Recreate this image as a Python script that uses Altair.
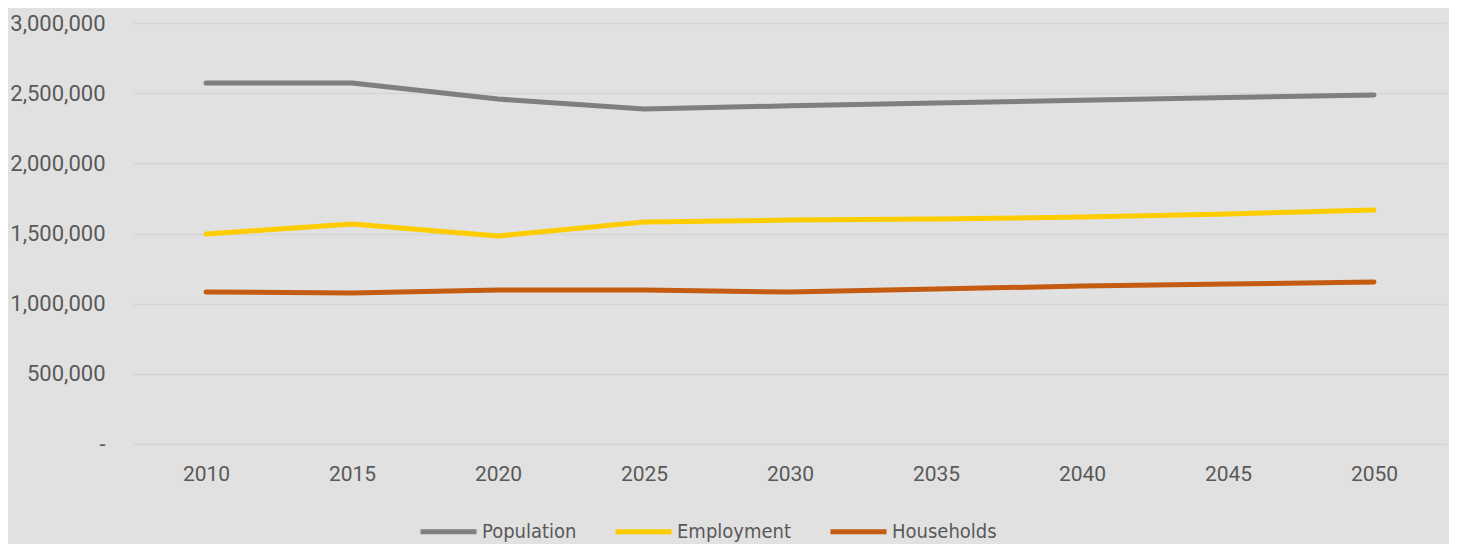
import altair as alt
import pandas as pd

years = ["2010", "2015", "2020", "2025", "2030", "2035", "2040", "2045", "2050"]
population = [2572000, 2572000, 2458000, 2387000, 2410000, 2430000, 2450000, 2470000, 2487000]
employment = [1496000, 1568000, 1482000, 1582000, 1596000, 1603000, 1617000, 1639000, 1667000]
households = [1083000, 1076000, 1097000, 1097000, 1083000, 1104000, 1126000, 1140000, 1154000]

series_names = ["Population", "Employment", "Households"]
series_colors = ["#7f7f7f", "#ffcc00", "#c55a11"]

rows = []
for name, vals in zip(series_names, [population, employment, households]):
    for y, v in zip(years, vals):
        rows.append({"Year": y, "Value": v, "Series": name})
df = pd.DataFrame(rows)

chart = alt.Chart(df).mark_line(strokeWidth=5, strokeCap="round", strokeJoin="round").encode(
    x=alt.X("Year:O", sort=years, title=None,
            scale=alt.Scale(type="point", padding=0.5),
            axis=alt.Axis(labelAngle=0, ticks=False, domain=False, grid=False,
                          labelPadding=19, labelFontSize=21, labelFont="Roboto",
                          labelColor="#595959")),
    y=alt.Y("Value:Q", title=None,
            scale=alt.Scale(domain=[0, 3000000], nice=False),
            axis=alt.Axis(values=[0, 500000, 1000000, 1500000, 2000000, 2500000, 3000000],
                          labelExpr="datum.value == 0 ? '-\u00a0\u00a0' : format(datum.value, ',')",
                          ticks=False, domain=False, grid=True, gridColor="#d5d5d5", gridWidth=1.5,
                          labelPadding=28, labelFontSize=22, labelFont="Roboto",
                          labelColor="#595959")),
    color=alt.Color("Series:N", sort=series_names,
                    scale=alt.Scale(domain=series_names, range=series_colors),
                    legend=alt.Legend(title=None, orient="none", direction="horizontal",
                                      legendX=285, legendY=478, padding=0,
                                      symbolType="stroke", symbolSize=3136, symbolStrokeWidth=5,
                                      labelFont="Liberation Sans Narrow, DejaVu Sans Condensed, sans-serif",
                                      labelFontSize=20, labelColor="#595959",
                                      labelOffset=3, columnPadding=28)),
).properties(
    width=1314, height=421,
    autosize=alt.AutoSizeParams(type="none"),
    padding={"left": 125, "top": 15, "right": 2, "bottom": 100},
    background="#e1e1e1",
).configure_view(stroke=None)

chart.save("out.html", embed_options={"renderer": "svg", "actions": False})
